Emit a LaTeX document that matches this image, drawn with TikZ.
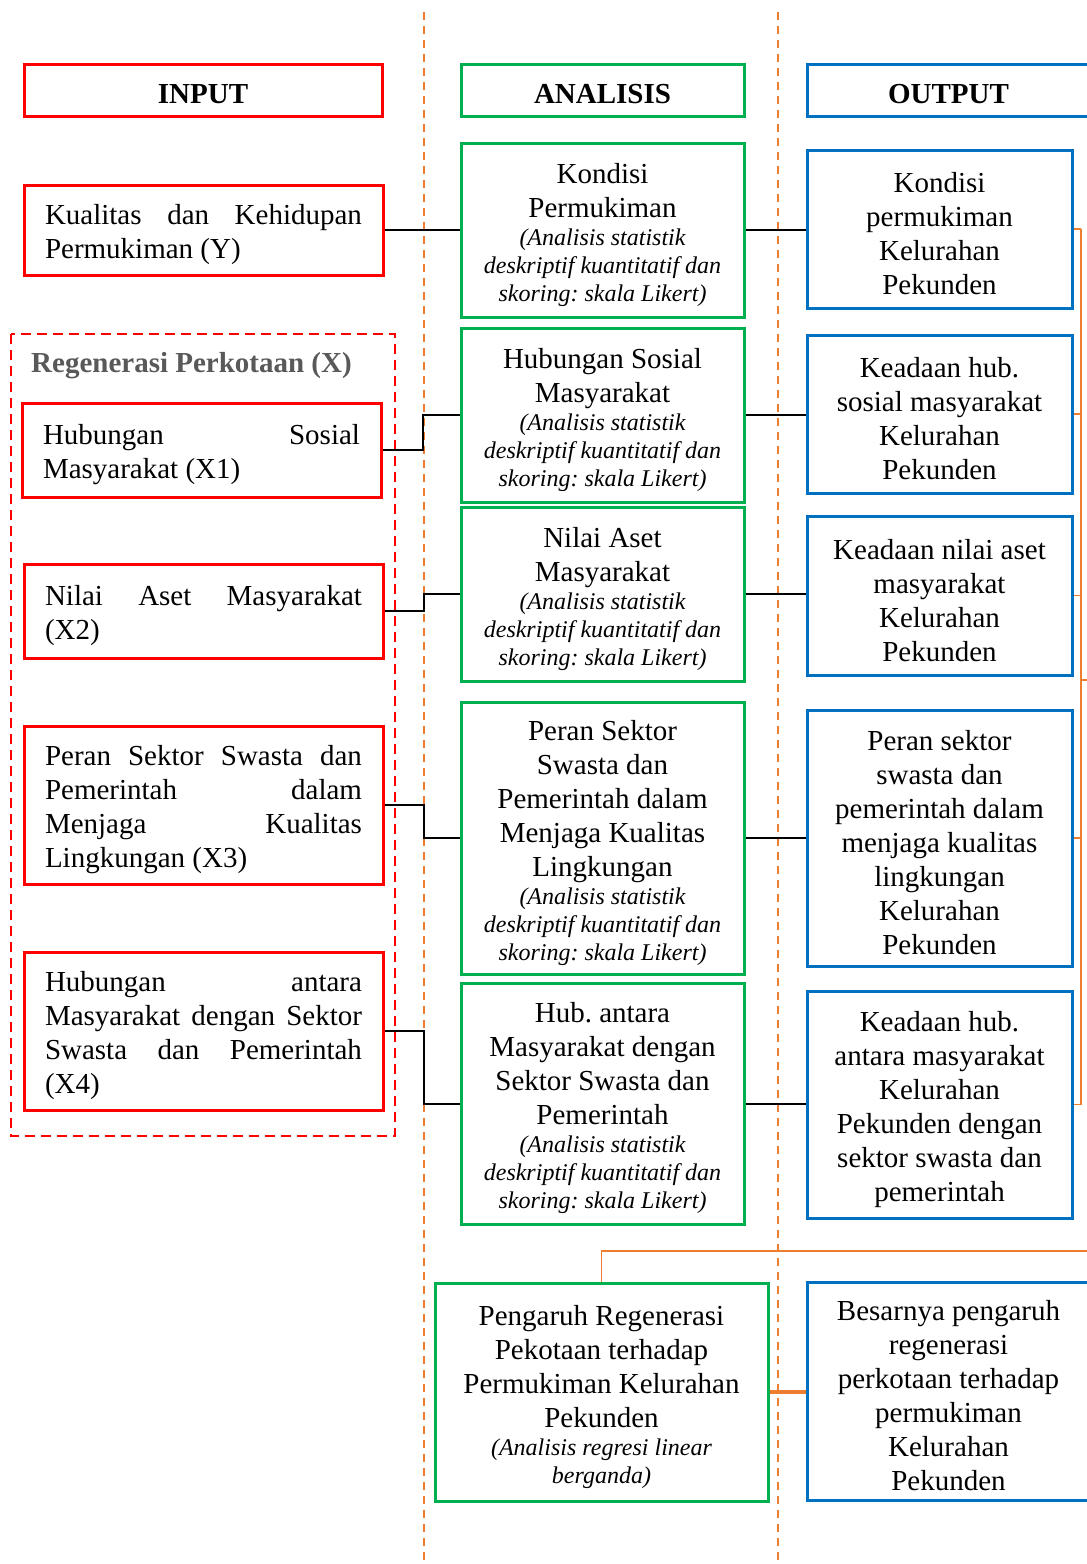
\documentclass[tikz,border=0pt]{standalone}
\usepackage{fontspec}
\setmainfont{Liberation Serif}
\usetikzlibrary{positioning}

\definecolor{inred}{HTML}{FF0000}
\definecolor{angreen}{HTML}{00B050}
\definecolor{outblue}{HTML}{0070C0}
\definecolor{lnorange}{HTML}{ED7D31}
\definecolor{capgray}{HTML}{595959}

\setlength{\parindent}{0pt}
\frenchspacing
\newcommand{\bigtxt}{\fontsize{29}{34}\selectfont}
\newcommand{\smalltxt}{\fontsize{24}{28}\selectfont\itshape}
\newcommand{\jline}[1]{\makebox[317pt][s]{#1}}
\newcommand{\boxprep}{\spaceskip=0pt\xspaceskip=0pt\rule{0pt}{30pt}}

\begin{document}
\begin{tikzpicture}[x=1pt,y=-1pt,
  inbox/.style={draw=inred, line width=3pt, inner sep=0pt, text width=317pt, align=flush left, font=\bigtxt, execute at begin node=\boxprep},
  anbox/.style={draw=angreen, line width=3pt, inner sep=0pt, text width=265pt, align=flush center, font=\bigtxt, execute at begin node=\boxprep},
  outbox/.style={draw=outblue, line width=3pt, inner sep=0pt, text width=250pt, align=flush center, font=\bigtxt, execute at begin node=\boxprep},
  head/.style={line width=3pt, inner sep=0pt, text height=26pt, text depth=0pt, font=\bigtxt\bfseries},
  link/.style={line width=2pt, black},
  tie/.style={line width=1.2pt, lnorange},
  guide/.style={line width=2pt, lnorange, dash pattern=on 8pt off 6pt}]
\clip (0,0) rectangle (1087,1564);

% column guides
\draw[guide] (424,12) -- (424,1564);
\draw[guide] (778,12) -- (778,1564);

% headers
\node[head, draw=inred, minimum width=358pt, minimum height=52pt] (hin) at (203,90) {INPUT};
\node[head, draw=angreen, minimum width=283pt, minimum height=52pt] (han) at (602.5,90) {ANALISIS};
\node[head, draw=outblue, minimum width=283pt, minimum height=52pt] (hout) at (948.5,90) {OUTPUT};

% input
\node[inbox, minimum width=359pt, minimum height=90pt] (y) at (203.5,230) {\jline{Kualitas dan Kehidupan}\\ Permukiman (Y)};

\draw[inred, line width=2pt, dash pattern=on 10pt off 6pt] (11,334) rectangle (395,1136);
\node[anchor=base west, inner sep=0pt, font=\bigtxt\bfseries, text=capgray] (xlabel) at (31,372) {Regenerasi Perkotaan (X)};

\node[inbox, minimum width=359pt, minimum height=94pt] (x1) at (201.5,450) {\jline{Hubungan Sosial}\\ Masyarakat (X1)};
\node[inbox, minimum width=359pt, minimum height=94pt] (x2) at (203.5,611) {\jline{Nilai Aset Masyarakat}\\ (X2)};
\node[inbox, minimum width=359pt, minimum height=158pt] (x3) at (203.5,805) {\jline{Peran Sektor Swasta dan}\\ \jline{Pemerintah dalam}\\ \jline{Menjaga Kualitas}\\ Lingkungan (X3)};
\node[inbox, minimum width=359pt, minimum height=158pt] (x4) at (203.5,1031) {\jline{Hubungan antara}\\ \jline{Masyarakat dengan Sektor}\\ \jline{Swasta dan Pemerintah}\\ (X4)};

% analisis
\node[anbox, minimum width=283pt, minimum height=174pt] (a1) at (602.5,230) {Kondisi\\ Permukiman\par {\smalltxt (Analisis statistik\\ deskriptif kuantitatif dan\\ skoring: skala Likert)\par}};
\node[anbox, minimum width=283pt, minimum height=174pt] (a2) at (602.5,415) {Hubungan Sosial\\ Masyarakat\par {\smalltxt (Analisis statistik\\ deskriptif kuantitatif dan\\ skoring: skala Likert)\par}};
\node[anbox, minimum width=283pt, minimum height=174pt] (a3) at (602.5,594) {Nilai Aset\\ Masyarakat\par {\smalltxt (Analisis statistik\\ deskriptif kuantitatif dan\\ skoring: skala Likert)\par}};
\node[anbox, minimum width=283pt, minimum height=272pt] (a4) at (602.5,838) {Peran Sektor\\ Swasta dan\\ Pemerintah dalam\\ Menjaga Kualitas\\ Lingkungan\par {\smalltxt (Analisis statistik\\ deskriptif kuantitatif dan\\ skoring: skala Likert)\par}};
\node[anbox, minimum width=283pt, minimum height=241pt] (a5) at (602.5,1103.5) {Hub. antara\\ Masyarakat dengan\\ Sektor Swasta dan\\ Pemerintah\par {\smalltxt (Analisis statistik\\ deskriptif kuantitatif dan\\ skoring: skala Likert)\par}};
\node[anbox, text width=310pt, minimum width=333pt, minimum height=218pt] (a6) at (601.5,1392) {Pengaruh Regenerasi\\ Pekotaan terhadap\\ Permukiman Kelurahan\\ Pekunden\par {\smalltxt (Analisis regresi linear\\ berganda)\par}};

% output
\node[outbox, minimum width=265pt, minimum height=158pt] (o1) at (939.5,229) {Kondisi\\ permukiman\\ Kelurahan\\ Pekunden};
\node[outbox, minimum width=265pt, minimum height=158pt] (o2) at (939.5,414) {Keadaan hub.\\ sosial masyarakat\\ Kelurahan\\ Pekunden};
\node[outbox, minimum width=265pt, minimum height=159pt] (o3) at (939.5,595.5) {Keadaan nilai aset\\ masyarakat\\ Kelurahan\\ Pekunden};
\node[outbox, minimum width=265pt, minimum height=256pt] (o4) at (939.5,838) {Peran sektor\\ swasta dan\\ pemerintah dalam\\ menjaga kualitas\\ lingkungan\\ Kelurahan\\ Pekunden};
\node[outbox, minimum width=265pt, minimum height=227pt] (o5) at (939.5,1104.5) {Keadaan hub.\\ antara masyarakat\\ Kelurahan\\ Pekunden dengan\\ sektor swasta dan\\ pemerintah};
\node[outbox, text width=265pt, minimum width=283pt, minimum height=218pt] (o6) at (948.5,1391) {Besarnya pengaruh\\ regenerasi\\ perkotaan terhadap\\ permukiman\\ Kelurahan\\ Pekunden};

% input to analisis
\draw[link] (y.east) -- (a1.west);
\draw[link] (x1.east) -- ++(40,0) |- (a2.west);
\draw[link] (x2.east) -- ++(39,0) |- (a3.west);
\draw[link] (x3.east) -- ++(39,0) |- (a4.west);
\draw[link] (x4.east) -- ++(39,0) |- (a5.west);

% analisis to output
\draw[link] (a1.east) -- (a1.east -| o1.west);
\draw[link] (a2.east) -- (a2.east -| o2.west);
\draw[link] (a3.east) -- (a3.east -| o3.west);
\draw[link] (a4.east) -- (a4.east -| o4.west);
\draw[link] (a5.east) -- (a5.east -| o5.west);
\draw[lnorange, line width=4pt] (a6.east) -- (a6.east -| o6.west);

% bracket on the right
\coordinate (br) at (1081,680);
\coordinate (brout) at (1090,680);
\draw[tie] (o1.east) -- (o1.east -| br);
\draw[tie] (o2.east) -- (o2.east -| br);
\draw[tie] (o3.east) -- (o3.east -| br);
\draw[tie] (o4.east) -- (o4.east -| br);
\draw[tie] (o5.east) -- (o5.east -| br);
\draw[tie] (o1.east -| br) -- (o5.east -| br);
\draw[tie] (br) -- (brout);

\coordinate (fb) at (1090,1251);
\draw[tie] (a6.north) |- (fb);
\end{tikzpicture}
\end{document}
